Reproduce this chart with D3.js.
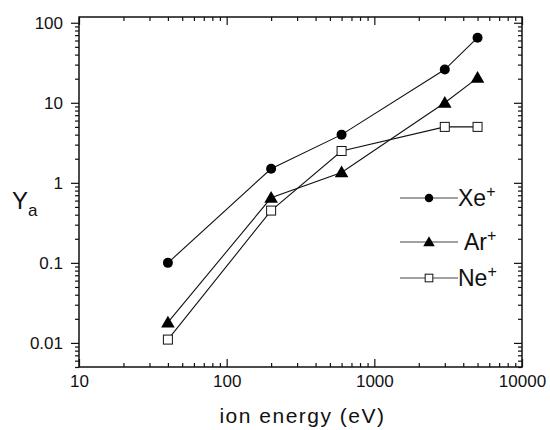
<!DOCTYPE html>
<html>
<head>
<meta charset="utf-8">
<script src="https://cdn.jsdelivr.net/npm/d3@7"></script>
<style>
    body { margin: 0; background: #fff; }
    svg { font-family: "Liberation Sans", Arial, sans-serif; }
    .tick text { font-size: 17px; fill: #111; }
    .tick line { stroke: #111; stroke-width: 1.2; }
</style>
</head>
<body>
<script>
//Data
const energy = [40, 200, 600, 3000, 5000];
const xeYield = [0.1, 1.5, 4, 26, 65];
const arYield = [0.018, 0.65, 1.35, 10, 20.5];
const neYield = [0.011, 0.45, 2.5, 5, 5];

//Tick labels
const xTicks = [10, 100, 1000, 10000];
const yTicks = [0.01, 0.1, 1, 10, 100];

//Series names for legend
const seriesNames = ['Xe', 'Ar', 'Ne'];

const width = 550;
const height = 430;

const margin = {
    top: 17,
    right: 27,
    bottom: 63,
    left: 79
};

const svg = d3.select('body').append('svg')
    .attr('width', width)
    .attr('height', height);

//Scales
let x = d3.scaleLog()
    .domain([10, 10000])
    .range([margin.left, width - margin.right - 1]);

let y = d3.scaleLog()
    .domain([0.005, 118])
    .range([height - margin.bottom, margin.top]);

//Minor ticks from the scale, majors removed
const xMinor = x.ticks().filter(d => !xTicks.includes(d));
const yMinor = y.ticks().filter(d => !yTicks.some(t => Math.abs(t - d) < 1e-9));

const x0 = x.range()[0], x1 = x.range()[1];
const y0 = y.range()[0], y1 = y.range()[1];

//Bottom axis: ticks inward, labels below
svg.append('g')
    .attr('transform', `translate(0, ${y0})`)
    .call(d3.axisBottom(x).tickValues(xTicks).tickSizeInner(-8).tickSizeOuter(0).tickPadding(8)
        .tickFormat(d => String(d)))
    .call(g => g.select('.domain').remove());

svg.append('g')
    .attr('transform', `translate(0, ${y0})`)
    .call(d3.axisBottom(x).tickValues(xMinor).tickSize(-4).tickFormat(''))
    .call(g => g.select('.domain').remove());

//Top axis: mirror ticks
svg.append('g')
    .attr('transform', `translate(0, ${y1})`)
    .call(d3.axisTop(x).tickValues(xTicks).tickSize(-8).tickFormat(''))
    .call(g => g.select('.domain').remove());

svg.append('g')
    .attr('transform', `translate(0, ${y1})`)
    .call(d3.axisTop(x).tickValues(xMinor).tickSize(-4).tickFormat(''))
    .call(g => g.select('.domain').remove());

//Left axis: ticks outward
svg.append('g')
    .attr('transform', `translate(${x0}, 0)`)
    .call(d3.axisLeft(y).tickValues(yTicks).tickSize(8).tickPadding(8)
        .tickFormat(d => String(d)))
    .call(g => g.select('.domain').remove());

svg.append('g')
    .attr('transform', `translate(${x0}, 0)`)
    .call(d3.axisLeft(y).tickValues(yMinor).tickSize(4).tickFormat(''))
    .call(g => g.select('.domain').remove());

//Right axis: mirror ticks inward
svg.append('g')
    .attr('transform', `translate(${x1}, 0)`)
    .call(d3.axisRight(y).tickValues(yTicks).tickSize(-8).tickFormat(''))
    .call(g => g.select('.domain').remove());

svg.append('g')
    .attr('transform', `translate(${x1}, 0)`)
    .call(d3.axisRight(y).tickValues(yMinor).tickSize(-4).tickFormat(''))
    .call(g => g.select('.domain').remove());

//Frame
svg.append('rect')
    .attr('x', x0)
    .attr('y', y1)
    .attr('width', x1 - x0)
    .attr('height', y0 - y1)
    .style('fill', 'none')
    .style('stroke', '#111')
    .style('stroke-width', 1.5);

//Build series
const series = [
    {name: 'Xe', values: xeYield, symbol: 'circle'},
    {name: 'Ar', values: arYield, symbol: 'triangle'},
    {name: 'Ne', values: neYield, symbol: 'square'}
].map(s => ({...s, points: energy.map((e, i) => ({e: e, v: s.values[i]}))}));

const line = d3.line()
    .x(d => x(d.e))
    .y(d => y(d.v));

svg.selectAll('path.series')
    .data(series)
    .enter()
    .append('path')
    .attr('class', 'series')
    .attr('d', d => line(d.points))
    .style('fill', 'none')
    .style('stroke', '#111')
    .style('stroke-width', 1.1);

//Draw a marker into a selection
const marker = function(sel, symbol, scale) {
    if (symbol == 'circle') {
        sel.append('circle')
            .attr('r', 5 * scale)
            .style('fill', '#000');
    } else if (symbol == 'triangle') {
        sel.append('path')
            .attr('d', d3.symbol(d3.symbolTriangle, 80 * scale * scale)())
            .attr('transform', 'translate(0,1)')
            .style('fill', '#000');
    } else {
        let s = 9 * scale;
        sel.append('rect')
            .attr('x', -s / 2)
            .attr('y', -s / 2)
            .attr('width', s)
            .attr('height', s)
            .style('fill', '#fff')
            .style('stroke', '#111')
            .style('stroke-width', 1);
    }
};

series.forEach(s => {
    svg.selectAll('g.pt-' + s.name)
        .data(s.points)
        .enter()
        .append('g')
        .attr('class', 'pt-' + s.name)
        .attr('transform', d => `translate(${x(d.e)}, ${y(d.v)})`)
        .each(function() { marker(d3.select(this), s.symbol, 1); });
});

//Legend
const legendY = [198, 242, 278];
const legend = svg.selectAll('g.legend')
    .data(series)
    .enter()
    .append('g')
    .attr('class', 'legend')
    .attr('transform', (d, i) => `translate(400, ${legendY[i]})`);

legend.append('line')
    .attr('x1', 0)
    .attr('x2', 58)
    .style('stroke', '#444')
    .style('stroke-width', 1);

legend.each(function(d) {
    let g = d3.select(this).append('g').attr('transform', 'translate(29,0)');
    marker(g, d.symbol, 0.85);
});

let legendText = legend.append('text')
    .attr('x', d => d.name == 'Ar' ? 64 : 58)
    .attr('y', 8)
    .style('font-size', '23px')
    .style('fill', '#111');

legendText.append('tspan').text(d => d.name);
legendText.append('tspan')
    .attr('dy', -9)
    .style('font-size', '16px')
    .text('+');

//Axis titles
svg.append('text')
    .attr('x', (x0 + x1) / 2 + 2)
    .attr('y', 423)
    .style('text-anchor', 'middle')
    .style('font-size', '21px')
    .style('letter-spacing', '1.5px')
    .style('fill', '#111')
    .text('ion energy (eV)');

let yTitle = svg.append('text')
    .attr('x', 12)
    .attr('y', 209)
    .style('font-size', '24px')
    .style('fill', '#111');

yTitle.append('tspan').text('Y');
yTitle.append('tspan')
    .attr('dy', 7)
    .style('font-size', '17px')
    .text('a');
</script>
</body>
</html>
